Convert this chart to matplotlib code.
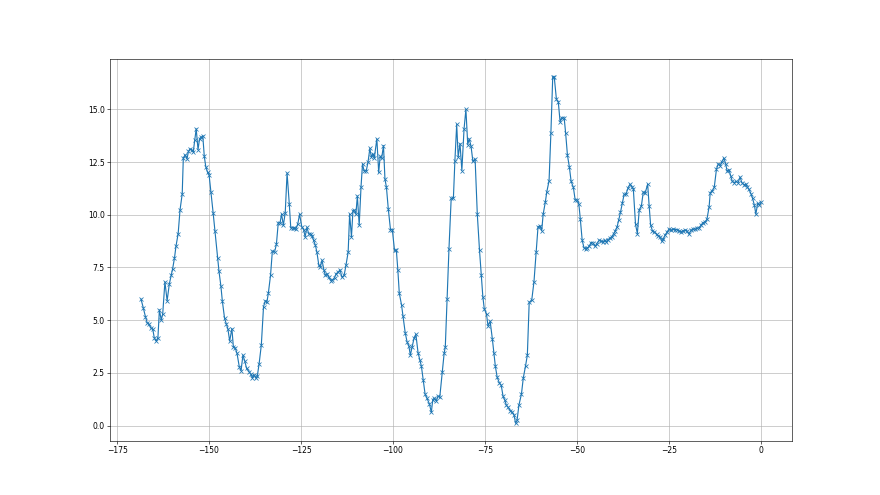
import matplotlib
matplotlib.use('Agg')
import matplotlib.pyplot as plt

# time offset (x) and reading (y)
x = [-168.5, -167.9, -167.3, -166.8, -166.3, -165.8, -165.3, -164.9, -164.4, -163.9,
     -163.5, -163.0, -162.6, -162.0, -161.4, -160.8, -160.3, -159.9, -159.4, -159.0,
     -158.4, -157.9, -157.3, -157.0, -156.5, -156.0, -155.6, -155.2, -154.7, -154.3,
     -153.9, -153.5, -153.0, -152.6, -152.2, -151.7, -151.3, -150.9, -150.4, -150.0,
     -149.5, -148.9, -148.4, -147.7, -147.3, -146.8, -146.4, -145.8, -145.3, -144.9,
     -144.4, -143.8, -143.4, -142.9, -142.4, -141.8,
     -141.3, -140.8, -140.3, -139.8, -139.1, -138.7, -138.2, -137.8, -137.3, -136.9,
     -136.4, -135.8, -135.2, -134.7, -134.3, -133.9, -133.3, -132.8, -132.2, -131.7,
     -131.2, -130.7, -130.3, -129.8, -129.3, -128.8, -128.2, -127.8, -127.3, -126.9,
     -126.4, -125.9, -125.4, -124.8, -124.3, -123.9, -123.4, -122.9, -122.4, -122.0,
     -121.6, -121.1, -120.7, -120.2, -119.8, -119.3, -118.8, -118.4, -117.9, -117.5,
     -116.9, -116.5, -115.9, -115.5,
     -114.9, -114.4, -113.9, -113.3, -112.8, -112.2, -111.8, -111.3, -110.9, -110.5,
     -110.1, -109.7, -109.2, -108.7, -108.3, -107.9, -107.3, -106.8, -106.3, -105.9,
     -105.5, -105.1, -104.4, -103.9, -103.5, -103.1, -102.6, -102.2, -101.8, -101.3,
     -100.7, -100.2, -99.6, -99.1, -98.7, -98.3, -97.7, -97.3, -96.7, -96.2,
     -95.7, -95.3, -94.8, -94.3, -93.8, -93.2, -92.7, -92.3, -91.8, -91.3,
     -90.8, -90.1, -89.6, -89.2, -88.8, -88.2, -87.8, -87.3,
     -86.6, -86.1, -85.8, -85.3, -84.8, -84.2, -83.6, -83.2, -82.7, -82.3,
     -81.8, -81.3, -80.7, -80.2, -79.7, -79.3, -78.8, -78.3, -77.7, -77.1,
     -76.5, -76.0, -75.6, -75.2, -74.6, -74.2, -73.6, -73.0, -72.6, -72.2,
     -71.7, -71.1, -70.6, -70.1, -69.6, -69.2, -68.7, -68.1, -67.6, -67.1,
     -66.7, -66.3, -65.8, -65.1, -64.6, -64.0, -63.5, -63.0, -62.3, -61.7,
     -61.1, -60.6, -60.1,
     -59.6, -59.2, -58.6, -58.2, -57.6, -57.1, -56.6, -56.2, -55.6, -55.1,
     -54.6, -54.2, -53.5, -53.1, -52.6, -52.1, -51.6, -51.0, -50.5, -49.9,
     -49.5, -49.1, -48.6, -48.1, -47.6, -47.2, -46.7, -46.2, -45.7, -45.1,
     -44.6, -44.0, -43.5, -43.0, -42.5, -42.1, -41.6, -41.0, -40.6, -40.0,
     -39.6, -39.1, -38.7, -38.2, -37.7, -37.2, -36.7, -36.1, -35.6, -35.1,
     -34.7, -34.1, -33.6, -33.1, -32.5, -32.0, -31.5, -30.8, -30.4,
     -30.0, -29.5, -29.0, -28.4, -27.9, -27.4, -27.0, -26.5, -26.1, -25.5,
     -25.0, -24.5, -23.9, -23.4, -22.8, -22.3, -21.7, -21.2, -20.7, -20.1,
     -19.6, -19.0, -18.5, -17.9, -17.4, -16.8, -16.3, -15.8, -15.2, -14.7,
     -14.1, -13.8, -13.2, -12.7, -12.1, -11.6, -11.1, -10.7, -10.1, -9.6,
     -9.2, -8.7, -8.2, -7.8, -7.3, -6.8, -6.2, -5.7, -5.2, -4.6,
     -4.2, -3.7, -3.3, -2.7, -2.3, -1.8, -1.4, -0.9, -0.5, 0.0]

y = [6.00, 5.60, 5.17, 4.86, 4.81, 4.62, 4.57, 4.17, 4.01, 4.17,
     5.49, 5.00, 5.29, 6.82, 5.92, 6.72, 7.12, 7.44, 7.95, 8.50,
     9.11, 10.22, 10.99, 12.69, 12.85, 12.65, 13.01, 13.12, 13.09, 12.98,
     13.54, 14.08, 13.09, 13.60, 13.68, 13.73, 12.77, 12.29, 12.01, 11.90,
     11.08, 10.10, 9.22, 7.95, 7.31, 6.64, 5.92, 5.10, 4.81, 4.60,
     4.01, 4.60, 3.74, 3.69, 3.42, 2.80,
     2.61, 3.34, 3.06, 2.71, 2.55, 2.45, 2.26, 2.42, 2.26, 2.34,
     2.93, 3.82, 5.64, 5.92, 5.84, 6.27, 7.12, 8.28, 8.23, 8.60,
     9.62, 9.62, 10.03, 9.51, 10.10, 11.98, 10.51, 9.38, 9.38, 9.38,
     9.33, 9.56, 10.02, 9.43, 9.30, 8.95, 9.40, 9.08, 9.11, 8.98,
     8.79, 8.55, 8.23, 7.64, 7.52, 7.84, 7.39, 7.12, 7.20, 7.04,
     6.88, 6.91, 7.01, 7.20,
     7.28, 7.39, 7.04, 7.12, 7.60, 8.23, 10.03, 8.95, 10.19, 10.22,
     10.03, 10.89, 9.51, 11.34, 12.41, 12.10, 12.07, 12.50, 13.15, 12.74,
     12.90, 12.69, 13.60, 12.01, 12.77, 12.68, 13.28, 11.69, 11.31, 10.29,
     9.30, 9.30, 8.31, 8.31, 7.39, 6.27, 5.73, 5.21, 4.41, 3.98,
     3.77, 3.34, 3.73, 4.14, 4.33, 3.45, 3.09, 2.82, 2.15, 1.50,
     1.30, 1.02, 0.62, 1.23, 1.30, 1.18, 1.39, 1.35,
     2.55, 3.45, 3.73, 6.00, 8.39, 10.78, 10.78, 12.53, 14.29, 12.74,
     13.38, 12.10, 14.08, 15.00, 13.33, 13.60, 13.25, 12.53, 12.65, 10.02,
     8.31, 7.12, 6.12, 5.53, 5.29, 4.73, 4.94, 4.09, 3.43, 2.82,
     2.29, 2.02, 1.91, 1.39, 1.19, 0.96, 0.86, 0.70, 0.64, 0.48,
     0.11, 0.24, 0.96, 1.50, 2.26, 2.82, 3.34, 5.84, 5.96, 6.82,
     8.23, 9.43, 9.47,
     9.24, 10.03, 10.62, 11.10, 11.61, 13.89, 16.55, 16.55, 15.48, 15.37,
     14.41, 14.60, 14.60, 13.89, 12.82, 12.29, 11.58, 11.31, 10.70, 10.70,
     10.50, 9.79, 8.79, 8.43, 8.39, 8.43, 8.50, 8.68, 8.68, 8.50,
     8.63, 8.79, 8.76, 8.71, 8.79, 8.71, 8.82, 8.90, 8.95, 9.11,
     9.24, 9.43, 9.73, 10.11, 10.54, 10.97, 10.97, 11.29, 11.45, 11.34,
     11.23, 9.54, 9.11, 10.22, 10.43, 11.07, 11.02, 11.45, 10.43,
     9.51, 9.24, 9.19, 9.08, 8.98, 8.95, 8.76, 8.87, 9.03, 9.19,
     9.32, 9.27, 9.32, 9.30, 9.30, 9.24, 9.19, 9.24, 9.27, 9.24,
     9.08, 9.27, 9.32, 9.32, 9.35, 9.39, 9.51, 9.62, 9.67, 9.78,
     10.38, 11.05, 11.15, 11.31, 12.17, 12.42, 12.33, 12.49, 12.69, 12.42,
     12.06, 12.14, 11.82, 11.58, 11.53, 11.58, 11.53, 11.79, 11.53, 11.42,
     11.45, 11.31, 11.21, 10.99, 10.78, 10.46, 10.03, 10.54, 10.46, 10.59]

fig, ax = plt.subplots(figsize=(16, 9), dpi=55)
ax.plot(x, y, '-x', color='#1f77b4')
ax.grid(True)
fig.savefig('out.png', dpi=55)
